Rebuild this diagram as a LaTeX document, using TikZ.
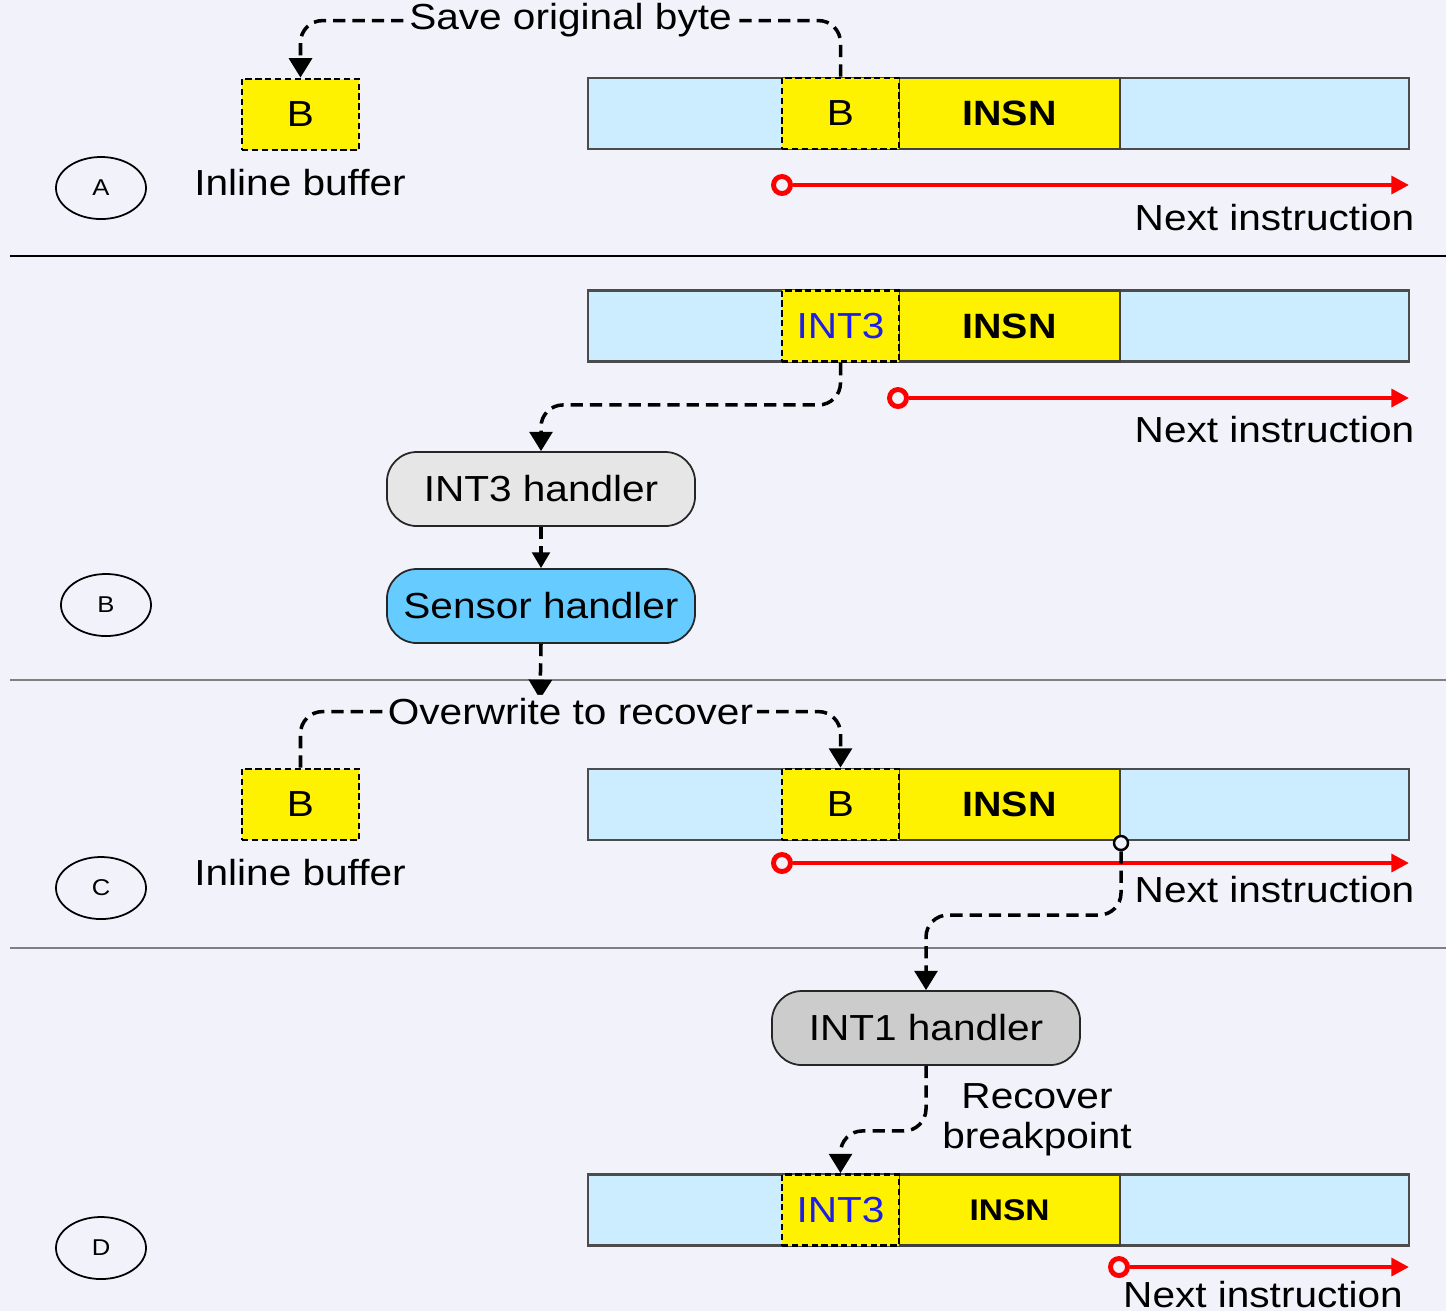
\documentclass[tikz,border=0pt]{standalone}
\usepackage{fontspec}
\setmainfont{Liberation Sans}[FakeStretch=1.12]
\usetikzlibrary{arrows.meta,shapes.geometric}
\definecolor{bg}{RGB}{242,242,250}
\definecolor{barblue}{RGB}{204,236,255}
\definecolor{sensorblue}{RGB}{102,204,255}
\definecolor{grayA}{RGB}{230,230,230}
\definecolor{grayB}{RGB}{204,204,204}
\definecolor{inkblue}{RGB}{30,30,230}

\begin{document}
\begin{tikzpicture}[x=0.01cm,y=-0.01cm,
    font=\fontsize{10.3}{12.5}\selectfont,
    membar/.style={draw=black!70, line width=0.7pt, fill=barblue, minimum width=8.21cm, minimum height=0.71cm, inner sep=0},
    insn/.style={draw=black!75, line width=0.7pt, fill=yellow, minimum width=2.21cm, minimum height=0.71cm, inner sep=0, font=\fontsize{10}{12}\bfseries},
    bytecell/.style={draw=black, dash pattern=on 1.8pt off 1pt, line width=0.8pt, fill=yellow, minimum width=1.17cm, minimum height=0.71cm, inner sep=0},
    handler/.style={draw=black!85, line width=0.5pt, rounded corners=0.3cm, minimum width=3.08cm, minimum height=0.74cm},
    tag/.style={draw, ellipse, line width=0.5pt, minimum width=0.9cm, minimum height=0.62cm, inner sep=0, font=\fontsize{6.5}{8}\selectfont},
    flow/.style={draw, dash pattern=on 3.5pt off 2pt, line width=1pt, rounded corners=0.22cm, -{Triangle[width=6.5pt,length=5.5pt]}},
    nextline/.style={draw=red, line width=1.2pt, -{Triangle[width=5pt,length=5pt]}},
    nxdot/.style={circle, draw=red, line width=1.4pt, fill=bg, minimum size=0.17cm, inner sep=0},
    brkdot/.style={circle, draw=black, line width=0.7pt, fill=bg, minimum size=0.14cm, inner sep=0},
    lbl/.style={fill=bg, inner sep=1pt},
    sep/.style={line width=0.8pt},
    ]
    \useasboundingbox (0,0) rectangle (1446,1311);
    \fill[bg] (0,0) rectangle (1446,1311);

    % Separators
    \draw [sep, black] (10,256) -- (1446,256);
    \draw [sep, black!50, line width=0.6pt] (10,680) -- (1446,680);
    \draw [sep, black!50] (10,948) -- (1446,948);

    % A: save original byte
    \node [membar] (barA) at (998.5,113.5) {};
    \node [insn] (insnA) at (1009.5,113.5) {INSN};
    \node [bytecell] (byteA) at (840.5,113.5) {B};
    \node [bytecell] (bufA) at (300.5,114.5) {B};
    \node (bufAtxt) at (300,183) {Inline buffer};
    \node [tag] (tagA) at (101,188) {A};
    \node [nxdot] (nxA) at (782,185) {};
    \coordinate (nxAend) at (1409,185);
    \node [anchor=east, inner sep=0] (nxAtxt) at (1415,218) {Next instruction};

    \path [flow] (byteA.north) -- ++(0,-56) -| node [lbl, pos=0.25] {Save original byte} (bufA.north);
    \path [nextline] (nxA) -- (nxAend);

    % B: breakpoint hit
    \node [membar] (barB) at (998.5,326) {};
    \node [insn] (insnB) at (1009.5,326) {INSN};
    \node [bytecell] (byteB) at (840.5,326) {\textcolor{inkblue}{INT3}};
    \node [nxdot] (nxB) at (898,398) {};
    \coordinate (nxBend) at (1409,398);
    \node [anchor=east, inner sep=0] (nxBtxt) at (1415,430) {Next instruction};
    \node [handler, fill=grayA] (int3) at (541,489) {INT3 handler};
    \node [handler, fill=sensorblue] (sensor) at (541,606) {Sensor handler};
    \node [tag] (tagB) at (106,605) {B};
    \coordinate (recov) at (540,699);

    \path [nextline] (nxB) -- (nxBend);
    \path [flow] (byteB.south) -- ++(0,42) -| (int3.north);
    \path [flow, -{Triangle[width=5pt,length=4.5pt]}] (int3.south) -- (sensor.north);
    \path [flow] (sensor.south) -- (recov);

    % C: overwrite to recover
    \node [membar] (barC) at (998.5,804.5) {};
    \node [insn] (insnC) at (1009.5,804.5) {INSN};
    \node [bytecell] (byteC) at (840.5,804.5) {B};
    \node [bytecell] (bufC) at (300.5,804.5) {B};
    \node (bufCtxt) at (300,873) {Inline buffer};
    \node [tag] (tagC) at (101,888) {C};
    \node [nxdot] (nxC) at (782,863) {};
    \coordinate (nxCend) at (1409,863);
    \node [anchor=east, inner sep=0] (nxCtxt) at (1415,890) {Next instruction};
    \node [brkdot] (brk) at (1121,843) {};

    \path [flow] (bufC.north) -- ++(0,-56) -| node [lbl, pos=0.25] {Overwrite to recover} (byteC.north);
    \path [nextline] (nxC) -- (nxCend);

    % D: single step, recover breakpoint
    \node [handler, fill=grayB] (int1) at (926,1028) {INT1 handler};
    \path [flow] (brk) -- ++(0,72) -| (int1.north);

    \node [membar] (barD) at (998.5,1210) {};
    \node [insn, font=\fontsize{8.5}{10}\bfseries] (insnD) at (1009.5,1210) {INSN};
    \node [bytecell] (byteD) at (840.5,1210) {\textcolor{inkblue}{INT3}};
    \node [tag] (tagD) at (101,1248) {D};
    \node [align=center, inner sep=0] (rectxt) at (1037,1120) {Recover\\[-1pt]breakpoint};
    \node [nxdot] (nxD) at (1119,1267) {};
    \coordinate (nxDend) at (1409,1267);
    \node [anchor=base] (nxDtxt) at (1263,1307) {Next instruction};

    \path [flow] (int1.south) -- ++(0,65) -| (byteD.north);
    \path [nextline] (nxD) -- (nxDend);
\end{tikzpicture}
\end{document}
